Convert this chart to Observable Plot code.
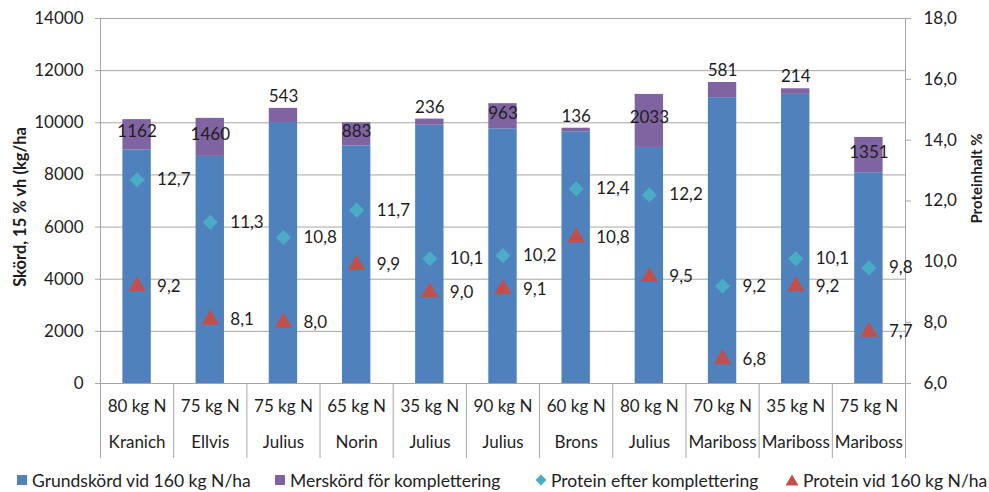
<!DOCTYPE html>
<html><head><meta charset="utf-8">
<script src="https://cdn.jsdelivr.net/npm/d3@7"></script>
<script src="https://cdn.jsdelivr.net/npm/@observablehq/plot@0.6"></script>
<style>
body{margin:0;background:#fff;font-family:Lato,sans-serif;}
#chart svg{display:block;}
#legend{position:relative;height:24px;font-size:17.5px;color:#222;white-space:nowrap;}
#legend .item{position:absolute;top:0;height:24px;display:flex;align-items:center;}
#legend .item:nth-child(1){left:16px;}
#legend .item:nth-child(2){left:274px;}
#legend .item:nth-child(3){left:535px;}
#legend .item:nth-child(4){left:785px;}
#legend svg{margin-right:4px;display:block;}
</style></head><body><div id="chart"></div><div id="legend"></div>
<script>
const doses = ["80 kg N","75 kg N","75 kg N","65 kg N","35 kg N","90 kg N","60 kg N","80 kg N","70 kg N","35 kg N","75 kg N"];
const varieties = ["Kranich","Ellvis","Julius","Norin","Julius","Julius","Brons","Julius","Mariboss","Mariboss","Mariboss"];
const baseYield = [8960, 8710, 10010, 9117, 9905, 9770, 9656, 9055, 10965, 11090, 8085];
const extraYield = [1162, 1460, 543, 883, 236, 963, 136, 2033, 581, 214, 1351];
const proteinAfter = [12.7, 11.3, 10.8, 11.7, 10.1, 10.2, 12.4, 12.2, 9.2, 10.1, 9.8];
const protein160 = [9.2, 8.1, 8.0, 9.9, 9.0, 9.1, 10.8, 9.5, 6.8, 9.2, 7.7];
const yieldTicks = [0, 2000, 4000, 6000, 8000, 10000, 12000, 14000];
const proteinTicks = [6, 8, 10, 12, 14, 16, 18];
const seriesNames = ["Grundskörd vid 160 kg N/ha", "Merskörd för komplettering", "Protein efter komplettering", "Protein vid 160 kg N/ha"];
const colors = ["#4f81bd", "#8064a2", "#4bacc6", "#c0504d"];

const yMax = 14000, pMin = 6, pMax = 18;
const toY = p => (p - pMin) / (pMax - pMin) * yMax;
const fromY = v => pMin + v / yMax * (pMax - pMin);
const fmt = p => p.toFixed(1).replace(".", ",");

const rows = doses.map((d, i) => ({
  i, dose: d, variety: varieties[i], base: baseYield[i], extra: extraYield[i],
  pa: proteinAfter[i], p160: protein160[i]
}));
const n = rows.length;
const grid = "#a6a6a6";
const ink = "#1e1e1e";
const fs = 17;

const chart = Plot.plot({
  width: 989, height: 468,
  marginTop: 18, marginBottom: 85, marginLeft: 100, marginRight: 84,
  style: {fontFamily: "Lato, sans-serif", fontSize: fs + "px", color: ink, background: "#fff"},
  x: {type: "linear", domain: [0, n], axis: null},
  y: {domain: [0, yMax], axis: null},
  marks: [
    Plot.gridY(yieldTicks, {stroke: grid, strokeOpacity: 1}),
    Plot.ruleX([0, n], {stroke: grid}),
    Plot.axisY(yieldTicks, {anchor: "left", tickSize: 5, tickPadding: 12, stroke: grid, fill: ink, fontSize: fs, tickFormat: d3.format("d"), label: null}),
    Plot.axisY(proteinTicks.map(toY), {anchor: "right", tickSize: 5, tickPadding: 13, stroke: grid, fill: ink, fontSize: fs, tickFormat: v => fmt(fromY(v)), label: null}),
    Plot.axisX(d3.range(n + 1), {anchor: "bottom", tickSize: 75, stroke: grid, tickFormat: () => "", label: null}),
    Plot.rectY(rows, {x1: d => d.i, x2: d => d.i + 1, y1: 0, y2: d => d.base, fill: colors[0], insetLeft: 22.4, insetRight: 22.4}),
    Plot.rectY(rows, {x1: d => d.i, x2: d => d.i + 1, y1: d => d.base, y2: d => d.base + d.extra, fill: colors[1], insetLeft: 22.4, insetRight: 22.4}),
    Plot.text(rows.filter(d => d.extra >= 800), {x: d => d.i + 0.5, y: d => d.base + d.extra / 2, text: d => String(d.extra), dy: -3, fill: ink, fontSize: fs}),
    Plot.text(rows.filter(d => d.extra < 800), {x: d => d.i + 0.5, y: d => d.base + d.extra, text: d => String(d.extra), dy: -12, fill: ink, fontSize: fs}),
    Plot.dot(rows, {x: d => d.i + 0.5, y: d => toY(d.pa), symbol: "diamond2", r: 6.8, fill: colors[2], stroke: null}),
    Plot.text(rows, {x: d => d.i + 0.5, y: d => toY(d.pa), text: d => fmt(d.pa), dx: 20, textAnchor: "start", fill: ink, fontSize: fs}),
    Plot.dot(rows, {x: d => d.i + 0.5, y: d => toY(d.p160), symbol: "triangle", r: 6.5, fill: colors[3], stroke: null}),
    Plot.text(rows, {x: d => d.i + 0.5, y: d => toY(d.p160), text: d => fmt(d.p160), dx: 20, textAnchor: "start", fill: ink, fontSize: fs}),
    Plot.text(rows, {x: d => d.i + 0.5, frameAnchor: "bottom", lineAnchor: "top", dy: 16, text: "dose", fill: ink, fontSize: fs}),
    Plot.text(rows, {x: d => d.i + 0.5, frameAnchor: "bottom", lineAnchor: "top", dy: 52, text: "variety", fill: ink, fontSize: fs}),
    Plot.text(["Skörd, 15 % vh (kg/ha"], {frameAnchor: "left", textAnchor: "middle", rotate: -90, dx: -80, dy: 6, fontWeight: "bold", fontSize: 16.5, fill: ink}),
    Plot.text(["Proteinhalt %"], {frameAnchor: "right", textAnchor: "middle", rotate: -90, dx: 72, dy: -22.5, fontWeight: "bold", fontSize: 15, fill: ink})
  ]
});
document.getElementById("chart").appendChild(chart);

const swatches = [
  `<svg width="12" height="12"><rect x="1" y="1" width="10" height="10" fill="${colors[0]}"/></svg>`,
  `<svg width="12" height="12"><rect x="1" y="1" width="10" height="10" fill="${colors[1]}"/></svg>`,
  `<svg width="12" height="12"><path d="M6,0.5L11.5,6L6,11.5L0.5,6Z" fill="${colors[2]}"/></svg>`,
  `<svg width="14" height="12"><path d="M7,0.5L13.5,11.5L0.5,11.5Z" fill="${colors[3]}"/></svg>`
];
document.getElementById("legend").innerHTML = seriesNames.map((s, k) =>
  `<span class="item">${swatches[k]}<span>${s}</span></span>`).join("");
</script>
</body></html>
